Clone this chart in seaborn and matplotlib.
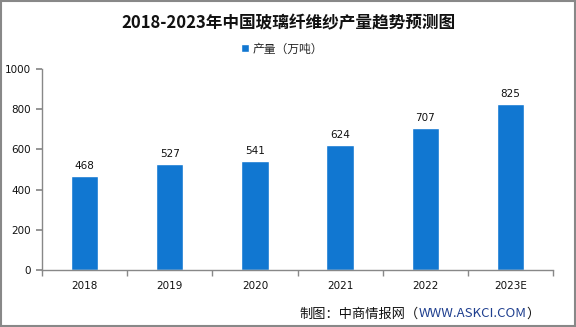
import matplotlib
matplotlib.use("Agg")
import matplotlib.pyplot as plt
import seaborn as sns
import pandas as pd
from matplotlib.patches import Rectangle
from matplotlib.ticker import FixedLocator

years = ["2018", "2019", "2020", "2021", "2022", "2023E"]
output = [468, 527, 541, 624, 707, 825]
series_name = "产量（万吨）"
title = "2018-2023年中国玻璃纤维纱产量趋势预测图"
source_label = "制图：中商情报网（"
source_url = "WWW.ASKCI.COM"
source_end = "）"

sns.set_theme(style="white")
plt.rcParams["font.family"] = ["Noto Sans CJK SC", "DejaVu Sans"]

df = pd.DataFrame({"year": years, "value": output})
bar_color = "#1177D1"

fig = plt.figure(figsize=(5.76, 3.27), dpi=100)
ax = fig.add_axes([0.073, 0.174, 0.887, 0.615])

sns.barplot(data=df, x="year", y="value", color=bar_color, width=0.32,
            saturation=1, ax=ax, label=series_name)

for i, v in enumerate(output):
    ax.text(i, v + 25, f"{v}", ha="center", va="bottom", fontsize=7.5,
            color="#111111", family=["DejaVu Sans"])

ax.set_ylim(0, 1000)
ax.set_xlim(-0.5, len(years) - 0.5)
ax.set_yticks(range(0, 1001, 200))
ax.set_xlabel("")
ax.set_ylabel("")
ax.tick_params(axis="y", labelsize=7.5, length=4, color="#888888", direction="out",
               left=True, pad=4)
ax.tick_params(axis="x", which="major", labelsize=7.5, length=0, pad=8)
ax.xaxis.set_minor_locator(FixedLocator([i + 0.5 for i in range(-1, len(years))]))
ax.tick_params(axis="x", which="minor", length=4, color="#888888", bottom=True,
               direction="out")
for lab in ax.get_xticklabels() + ax.get_yticklabels():
    lab.set_family("DejaVu Sans")
    lab.set_color("#111111")

for side in ["top", "right"]:
    ax.spines[side].set_visible(False)
for side in ["left", "bottom"]:
    ax.spines[side].set_color("#888888")
    ax.spines[side].set_linewidth(1.0)

ax.legend(loc="center", bbox_to_anchor=(0.47, 1.1), frameon=False, fontsize=8.5,
          handlelength=0.7, handleheight=0.7, handletextpad=0.3)

fig.text(0.5, 0.93, title, ha="center", va="center", fontsize=12,
         fontweight="bold", color="#111111")

t1 = fig.text(0.52, 0.04, source_label, ha="left", va="center", fontsize=9.5,
              color="#111111")
fig.canvas.draw()
bb = t1.get_window_extent()
x2 = bb.x1 / fig.bbox.width
t2 = fig.text(x2, 0.04, source_url, ha="left", va="center", fontsize=9.5,
              color="#1F3F8F")
fig.canvas.draw()
bb2 = t2.get_window_extent()
fig.text(bb2.x1 / fig.bbox.width, 0.04, source_end, ha="left", va="center",
         fontsize=9.5, color="#111111")

fig.patches.append(Rectangle((0.001, 0.002), 0.997, 0.996, transform=fig.transFigure,
                             fill=False, edgecolor="#888888", linewidth=1.5))

fig.savefig("out.png", dpi=100, facecolor="white")
